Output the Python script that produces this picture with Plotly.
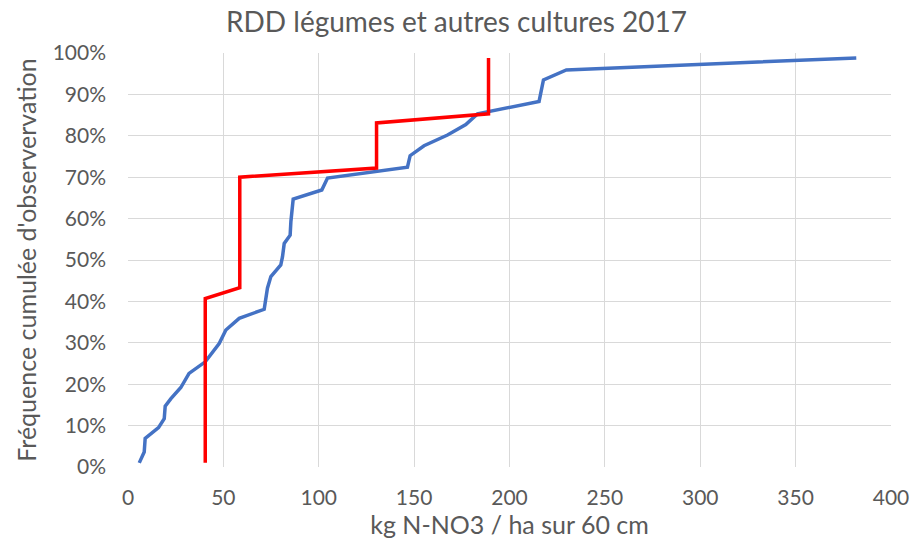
import plotly.graph_objects as go

# Blue series: cumulative observed distribution
blue_x = [5.9, 8.5, 9.0, 16.0, 19.0, 19.5, 22.5, 27.7, 32.0, 40.5, 47.8, 51.3, 58.3, 71.4,
          73.1, 74.9, 80.1, 81.0, 81.9, 85.0, 85.4, 86.6, 101.6, 104.6, 146.5, 147.9,
          155.2, 167.5, 177.1, 183.2, 215.5, 217.8, 229.8, 381.8]
blue_y = [1.0, 3.6, 6.9, 9.5, 11.7, 14.7, 16.5, 19.2, 22.6, 25.4, 29.8, 33.1, 35.9, 38.1,
          43.2, 46.0, 48.8, 50.8, 54.0, 56.0, 59.3, 64.7, 66.9, 69.8, 72.4, 75.2,
          77.6, 80.2, 82.7, 85.3, 88.3, 93.5, 95.9, 98.8]

# Red series: reference steps
red_x = [40.5, 40.5, 58.6, 58.6, 130.3, 130.3, 189.0, 189.0]
red_y = [1.0, 40.7, 43.3, 70.0, 72.2, 83.1, 85.3, 98.8]

x_ticks = [0, 50, 100, 150, 200, 250, 300, 350, 400]
y_ticks = [0, 10, 20, 30, 40, 50, 60, 70, 80, 90, 100]
y_tick_labels = [f"{v}%" for v in y_ticks]

title = "RDD légumes et autres cultures 2017"
x_title = "kg N-NO3 / ha sur 60 cm"
y_title = "Fréquence cumulée d'observervation"

font_family = "Lato, 'Open Sans', sans-serif"

fig = go.Figure()
fig.add_trace(go.Scatter(x=blue_x, y=blue_y, mode="lines",
                         line=dict(color="#4472C4", width=3.5), showlegend=False))
fig.add_trace(go.Scatter(x=red_x, y=red_y, mode="lines",
                         line=dict(color="#FF0000", width=3.5), showlegend=False))

fig.update_layout(
    width=913, height=545,
    margin=dict(l=128, r=22, t=53, b=78, autoexpand=False),
    paper_bgcolor="white", plot_bgcolor="white",
    font=dict(family=font_family, color="#595959"),
    title=dict(text=title, x=0.5, xref="container", xanchor="center", y=1 - 22 / 545,
               yref="container", yanchor="middle",
               font=dict(size=28, color="#595959", family=font_family)),
    xaxis=dict(range=[0, 400], tickvals=x_ticks, showgrid=True, gridcolor="#d9d9d9",
               gridwidth=1, zeroline=False, showline=False, ticks="", automargin=False,
               tickfont=dict(size=21, color="#595959"), ticklabelstandoff=16,
               title=dict(text=x_title, font=dict(size=25, color="#595959"), standoff=3)),
    yaxis=dict(range=[0, 100], tickvals=y_ticks, ticktext=y_tick_labels, showgrid=True,
               gridcolor="#d9d9d9", gridwidth=1, zeroline=False, showline=False, ticks="",
               automargin=False,
               tickfont=dict(size=21, color="#595959"), ticklabelstandoff=21,
               title=dict(text=y_title, font=dict(size=25, color="#595959"), standoff=8)),
)

fig.write_html("out.html", config={"displayModeBar": False},
               post_script="document.body.style.margin='0';document.body.style.overflow='hidden';")
